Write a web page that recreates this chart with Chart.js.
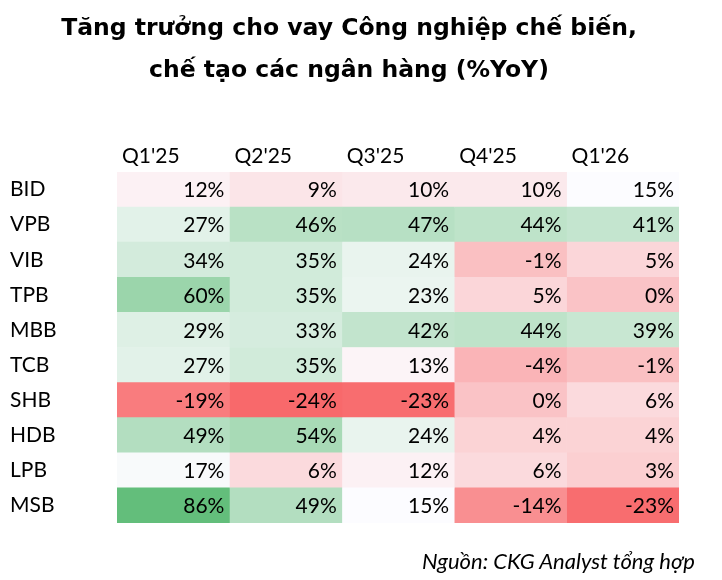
<!DOCTYPE html>
<html>
<head>
<meta charset="utf-8">
<script src="https://cdn.jsdelivr.net/npm/chart.js@4"></script>
<style>
  html, body { margin: 0; padding: 0; background: #fff; }
  #wrap { position: relative; width: 722px; height: 580px; }
  #title { position: absolute; left: 0; width: 698px; top: 6px; text-align: center;
           font-family: 'DejaVu Sans', sans-serif; font-weight: bold;
           font-size: 23.5px; line-height: 42px; color: #000; }
  #source { position: absolute; right: 27px; top: 547px; font-family: Lato, sans-serif;
            font-style: italic; font-size: 22px; color: #000; }
  canvas { position: absolute; left: 0; top: 0; }
</style>
</head>
<body>
<div id="wrap">
  <canvas id="heat" width="722" height="580"></canvas>
  <div id="title">Tăng trưởng cho vay Công nghiệp chế biến,<br>chế tạo các ngân hàng (%YoY)</div>
  <div id="source">Nguồn: CKG Analyst tổng hợp</div>
</div>
<script>
// ngân hàng & quý
const banks = ["BID", "VPB", "VIB", "TPB", "MBB", "TCB", "SHB", "HDB", "LPB", "MSB"];
const quarters = ["Q1'25", "Q2'25", "Q3'25", "Q4'25", "Q1'26"];

// %YoY theo từng quý (mỗi mảng = 1 cột)
const q1_25 = [12, 27, 34, 60, 29, 27, -19, 49, 17, 86];
const q2_25 = [9, 46, 35, 35, 33, 35, -24, 54, 6, 49];
const q3_25 = [10, 47, 24, 23, 42, 13, -23, 24, 12, 15];
const q4_25 = [10, 44, -1, 5, 44, -4, 0, 4, 6, -14];
const q1_26 = [15, 41, 5, 0, 39, -1, 6, 4, 3, -23];
const cols = [q1_25, q2_25, q3_25, q4_25, q1_26];

// thang màu kiểu Excel: đỏ - trắng (trung vị) - xanh
const RED = [248, 105, 107], WHITE = [252, 252, 255], GREEN = [99, 190, 123];
const all = cols.flat();
const vMin = Math.min(...all), vMax = Math.max(...all);
const sorted = [...all].sort((a, b) => a - b);
const vMid = (sorted[sorted.length / 2 - 1] + sorted[sorted.length / 2]) / 2;

function mix(a, b, t) {
    return 'rgb(' + a.map((c, i) => Math.round(c + (b[i] - c) * t)).join(',') + ')';
}
function cellColor(v) {
    if (v <= vMid) return mix(RED, WHITE, (v - vMin) / (vMid - vMin));
    return mix(WHITE, GREEN, (v - vMid) / (vMax - vMid));
}

const FONT = 'Lato';
const FSIZE = 21;

// in giá trị % vào từng ô
const cellText = {
    id: 'cellText',
    afterDatasetsDraw(chart) {
        const ctx = chart.ctx;
        ctx.save();
        ctx.font = FSIZE + 'px ' + FONT;
        ctx.fillStyle = '#000';
        ctx.textAlign = 'right';
        ctx.textBaseline = 'middle';
        chart.data.datasets.forEach((ds, di) => {
            chart.getDatasetMeta(di).data.forEach((bar, i) => {
                ctx.fillText(cols[di][i] + '%', bar.x - 5, bar.y + 1);
            });
        });
        ctx.restore();
    }
};

new Chart(document.getElementById('heat'), {
    type: 'bar',
    data: {
        labels: banks,
        datasets: cols.map((c, j) => ({
            label: quarters[j],
            data: c.map(() => 1),
            backgroundColor: c.map(cellColor),
            borderWidth: 0,
            barPercentage: 1,
            categoryPercentage: 1
        }))
    },
    options: {
        indexAxis: 'y',
        responsive: false,
        animation: false,
        layout: { padding: { left: 10, right: 43, top: 130, bottom: 57 } },
        scales: {
            x: {
                stacked: true, position: 'top', min: 0, max: 5,
                grid: { display: false, drawTicks: false }, border: { display: false },
                ticks: {
                    stepSize: 1, align: 'start', labelOffset: 5, padding: 3, color: '#000',
                    font: { family: FONT, size: FSIZE },
                    callback: v => quarters[v] || ''
                },
                afterFit: s => { s.height = 42; }
            },
            y: {
                stacked: true,
                grid: { display: false, drawTicks: false }, border: { display: false },
                ticks: { crossAlign: 'far', color: '#000', font: { family: FONT, size: FSIZE } },
                afterFit: s => { s.width = 107; }
            }
        },
        plugins: { legend: { display: false }, tooltip: { enabled: false } }
    },
    plugins: [cellText]
});
</script>
</body>
</html>
